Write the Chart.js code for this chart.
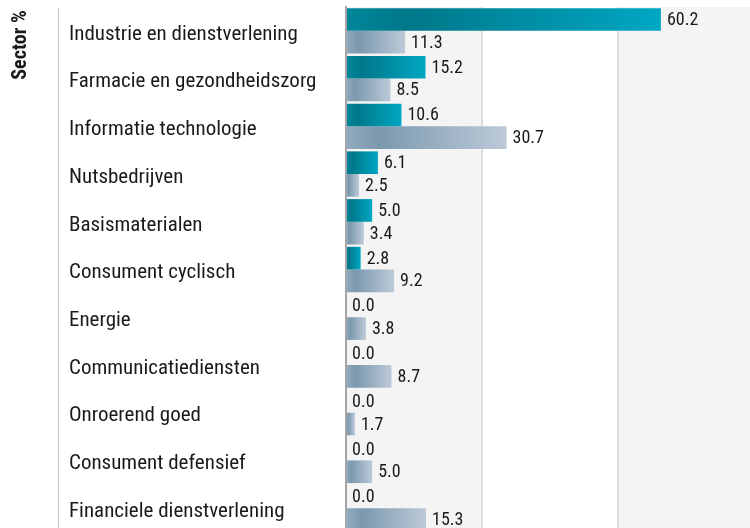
<!DOCTYPE html>
<html>
<head>
<meta charset="utf-8">
<script src="https://cdn.jsdelivr.net/npm/chart.js@4"></script>
<style>
  body { margin: 0; overflow: hidden; background: #fff; }
</style>
</head>
<body>
<canvas id="sectorChart" width="756" height="534"></canvas>
<script>
// data
var sectors = [
    'Industrie en dienstverlening',
    'Farmacie en gezondheidszorg',
    'Informatie technologie',
    'Nutsbedrijven',
    'Basismaterialen',
    'Consument cyclisch',
    'Energie',
    'Communicatiediensten',
    'Onroerend goed',
    'Consument defensief',
    'Financiele dienstverlening'
];
var fundValues = [60.2, 15.2, 10.6, 6.1, 5.0, 2.8, 0.0, 0.0, 0.0, 0.0, 0.0];
var benchmarkValues = [11.3, 8.5, 30.7, 2.5, 3.4, 9.2, 3.8, 8.7, 1.7, 5.0, 15.3];
var axisTitle = 'Sector %';

var FONT = "'Roboto Condensed', 'Liberation Sans Narrow', Roboto, sans-serif";

// gradient fill along each bar
function barGradient(stops, fallback) {
    return function(c) {
        var chart = c.chart;
        if (!chart.chartArea || c.raw == null) return fallback;
        var xs = chart.scales.x;
        var x0 = xs.getPixelForValue(0);
        var x1 = xs.getPixelForValue(c.raw);
        if (x1 - x0 < 1) return fallback;
        var g = chart.ctx.createLinearGradient(x0, 0, x1, 0);
        stops.forEach(function(s) { g.addColorStop(s[0], s[1]); });
        return g;
    };
}

var bandsPlugin = {
    id: 'bands',
    beforeDraw: function(chart) {
        var ctx = chart.ctx, a = chart.chartArea, xs = chart.scales.x;
        var ticks = xs.ticks;
        ctx.save();
        for (var i = 0; i < ticks.length - 1; i++) {
            if (i % 2 === 0) {
                var l = xs.getPixelForValue(ticks[i].value);
                var r = xs.getPixelForValue(ticks[i + 1].value);
                ctx.fillStyle = '#f4f4f4';
                ctx.fillRect(l, a.top, r - l, a.bottom - a.top);
            }
        }
        ctx.restore();
    }
};

var labelsPlugin = {
    id: 'valueLabels',
    afterDatasetsDraw: function(chart) {
        var ctx = chart.ctx;
        ctx.save();
        ctx.font = '18px ' + FONT;
        ctx.fillStyle = '#1a1a1a';
        ctx.textAlign = 'left';
        ctx.textBaseline = 'middle';
        chart.data.datasets.forEach(function(ds, di) {
            chart.getDatasetMeta(di).data.forEach(function(el, i) {
                ctx.fillText(ds.data[i].toFixed(1), el.x + 6, el.y + 1);
            });
        });
        ctx.restore();
    },
    afterDraw: function(chart) {
        var ctx = chart.ctx, a = chart.chartArea;
        ctx.save();
        // thin rule left of the category labels
        ctx.strokeStyle = '#c4c4c4';
        ctx.lineWidth = 1;
        ctx.beginPath();
        ctx.moveTo(58.5, a.top + 1);
        ctx.lineTo(58.5, a.bottom);
        ctx.stroke();
        // rotated axis title at the top
        ctx.translate(21, 45);
        ctx.rotate(-Math.PI / 2);
        ctx.font = 'bold 20px ' + FONT;
        ctx.fillStyle = '#1a1a1a';
        ctx.textAlign = 'center';
        ctx.textBaseline = 'middle';
        ctx.fillText(axisTitle, 0, 0);
        ctx.restore();
    }
};

var ctx = document.getElementById('sectorChart').getContext('2d');
var chart = new Chart(ctx, {
    type: 'bar',
    data: {
        labels: sectors,
        datasets: [{
            label: 'Fonds',
            data: fundValues,
            backgroundColor: barGradient([[0, '#00879a'], [0.2, '#00788a'], [1, '#00a7c3']], '#008a9e'),
            categoryPercentage: 0.95,
            barPercentage: 1.0
        }, {
            label: 'Benchmark',
            data: benchmarkValues,
            backgroundColor: barGradient([[0, '#93abbe'], [0.2, '#7b98ae'], [1, '#bdcad8']], '#8ea7bb'),
            categoryPercentage: 0.95,
            barPercentage: 1.0
        }]
    },
    options: {
        indexAxis: 'y',
        responsive: false,
        animation: false,
        layout: { padding: { left: 69, top: 7, right: 2, bottom: 2 } },
        plugins: {
            legend: { display: false },
            tooltip: { enabled: false }
        },
        scales: {
            x: {
                min: 0,
                max: 78,
                ticks: { display: false, stepSize: 26 },
                grid: { color: '#dedede', lineWidth: 2, drawTicks: false },
                border: { display: false },
                afterFit: function(scale) { scale.paddingLeft = 0; scale.paddingRight = 0; }
            },
            y: {
                afterFit: function(scale) {
                    scale.width = 277;
                    scale.paddingTop = 0;
                    scale.paddingBottom = 0;
                },
                ticks: {
                    crossAlign: 'far',
                    color: '#1a1a1a',
                    font: { family: FONT, size: 21, lineHeight: '7px' },
                    // empty first line nudges the label a few px down
                    callback: function(v, i) { return ['', sectors[i]]; }
                },
                grid: { display: false, drawTicks: false },
                border: { color: '#a6a6a6', width: 2 }
            }
        }
    },
    plugins: [bandsPlugin, labelsPlugin]
});
</script>
</body>
</html>
